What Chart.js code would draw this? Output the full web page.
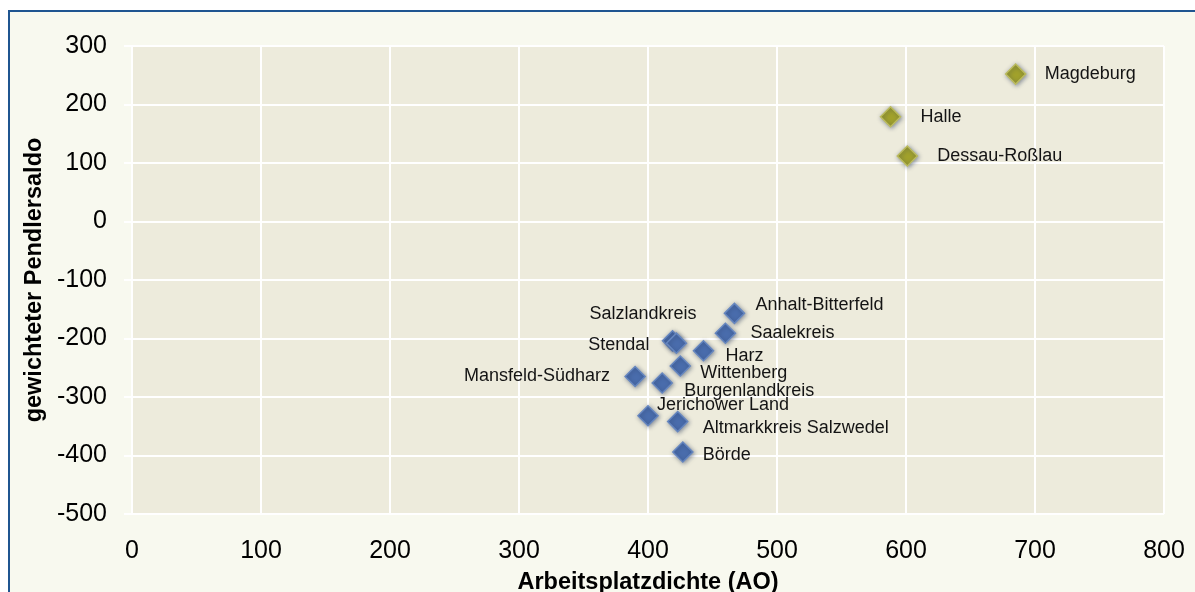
<!DOCTYPE html>
<html>
<head>
<meta charset="utf-8">
<script src="https://cdn.jsdelivr.net/npm/chart.js@4"></script>
<style>
  html, body { margin: 0; padding: 0; background: #ffffff; }
  #wrap { width: 1195px; height: 592px; }
</style>
</head>
<body>
<div id="wrap"><canvas id="c" width="1195" height="592"></canvas></div>
<script>
// ---- data ----
const cityNames = ["Magdeburg", "Halle", "Dessau-Roßlau"];
const cityAO = [685, 588, 601];
const citySaldo = [252, 179, 112];

const districtNames = ["Anhalt-Bitterfeld", "Saalekreis", "Salzlandkreis", "Stendal", "Harz", "Wittenberg",
  "Mansfeld-Südharz", "Burgenlandkreis", "Jerichower Land", "Altmarkkreis Salzwedel", "Börde"];
const districtAO = [467, 460, 419, 422, 443, 425, 390, 411, 400, 423, 427];
const districtSaldo = [-157, -191, -204, -208, -221, -247, -265, -276, -332, -342, -394];

const xTicks = [0, 100, 200, 300, 400, 500, 600, 700, 800];
const yTicks = [300, 200, 100, 0, -100, -200, -300, -400, -500];

// label placement (pixel offsets from the marker, text alignment)
const labelPlacement = {
  "Magdeburg": [29, 0, "left"],
  "Halle": [30, 0, "left"],
  "Dessau-Roßlau": [30, 0, "left"],
  "Anhalt-Bitterfeld": [21, -8, "left"],
  "Saalekreis": [25, 0, "left"],
  "Salzlandkreis": [24, -27, "right"],
  "Stendal": [-27, 2, "right"],
  "Harz": [22, 5, "left"],
  "Wittenberg": [20, 7, "left"],
  "Mansfeld-Südharz": [-25, 0, "right"],
  "Burgenlandkreis": [22, 8, "left"],
  "Jerichower Land": [9, -11, "left"],
  "Altmarkkreis Salzwedel": [25, 6, "left"],
  "Börde": [20, 3, "left"]
};

const toPoints = (xs, ys) => xs.map((x, i) => ({ x: x, y: ys[i] }));

const bgPlugin = {
  id: 'bg',
  beforeDraw(chart) {
    const ctx = chart.ctx;
    const ca = chart.chartArea;
    ctx.save();
    ctx.fillStyle = '#ffffff';
    ctx.fillRect(0, 0, chart.width, chart.height);
    ctx.fillStyle = '#F8F9EF';
    ctx.fillRect(9, 11, chart.width - 9, chart.height - 11);
    ctx.strokeStyle = '#1F5590';
    ctx.lineWidth = 2;
    ctx.beginPath();
    ctx.moveTo(9, chart.height);
    ctx.lineTo(9, 11);
    ctx.lineTo(chart.width, 11);
    ctx.stroke();
    ctx.fillStyle = '#EDEBDC';
    ctx.fillRect(ca.left, ca.top, ca.right - ca.left, ca.bottom - ca.top);
    ctx.restore();
  }
};

const shadowPlugin = {
  id: 'shadow',
  beforeDatasetsDraw(chart) {
    const ctx = chart.ctx;
    ctx.save();
    ctx.shadowColor = 'rgba(40,55,90,0.5)';
    ctx.shadowBlur = 4;
    ctx.shadowOffsetX = 1;
    ctx.shadowOffsetY = 1;
  },
  afterDatasetsDraw(chart) {
    chart.ctx.restore();
  }
};

const labelPlugin = {
  id: 'pointLabels',
  afterDatasetsDraw(chart) {
    const ctx = chart.ctx;
    const xs = chart.scales.x, ys = chart.scales.y;
    ctx.save();
    ctx.font = '18px "Liberation Sans", Arial, sans-serif';
    ctx.fillStyle = '#141414';
    ctx.textBaseline = 'middle';
    chart.data.datasets.forEach(ds => {
      ds.data.forEach((p, i) => {
        const name = ds.names[i];
        const pl = labelPlacement[name] || [20, 0, 'left'];
        ctx.textAlign = pl[2];
        ctx.fillText(name, xs.getPixelForValue(p.x) + pl[0], ys.getPixelForValue(p.y) + pl[1]);
      });
    });
    ctx.restore();
  }
};

new Chart(document.getElementById('c'), {
  type: 'scatter',
  data: {
    datasets: [
      {
        label: 'Landkreise',
        names: districtNames,
        data: toPoints(districtAO, districtSaldo),
        pointStyle: 'rectRot',
        pointRadius: 10,
        pointHoverRadius: 10,
        backgroundColor: '#4A6DAD',
        borderColor: '#6586BF',
        borderWidth: 1.5
      },
      {
        label: 'Kreisfreie Städte',
        names: cityNames,
        data: toPoints(cityAO, citySaldo),
        pointStyle: 'rectRot',
        pointRadius: 10,
        pointHoverRadius: 10,
        backgroundColor: '#A2A22C',
        borderColor: '#BBBB5E',
        borderWidth: 1.5
      }
    ]
  },
  options: {
    responsive: false,
    animation: false,
    devicePixelRatio: 1,
    layout: { padding: { left: 0, top: 46, right: 31, bottom: 0 } },
    plugins: {
      legend: { display: false },
      tooltip: { enabled: false }
    },
    scales: {
      x: {
        type: 'linear',
        min: 0, max: 800,
        afterBuildTicks(scale) { scale.ticks = xTicks.map(v => ({ value: v })); },
        afterFit(scale) { scale.height = 78; scale.paddingRight = 0; scale.paddingLeft = 0; },
        grid: { color: '#ffffff', lineWidth: 2, drawTicks: false },
        border: { display: false },
        ticks: {
          padding: 22,
          color: '#000000',
          font: { family: '"Liberation Sans", Arial, sans-serif', size: 25 },
          callback: v => String(v)
        },
        title: {
          display: true,
          text: 'Arbeitsplatzdichte (AO)',
          color: '#000000',
          padding: { top: 0, bottom: 0 },
          font: { family: '"Liberation Sans", Arial, sans-serif', size: 23.5, weight: 'bold', lineHeight: 0.8 }
        }
      },
      y: {
        type: 'linear',
        min: -500, max: 300,
        afterBuildTicks(scale) { scale.ticks = yTicks.slice().reverse().map(v => ({ value: v })); },
        afterFit(scale) { scale.width = 132; scale.paddingTop = 0; scale.paddingBottom = 0; },
        grid: { color: '#ffffff', lineWidth: 2, drawTicks: true, tickLength: 8, tickColor: '#ffffff' },
        border: { display: false },
        ticks: {
          padding: 17,
          color: '#000000',
          font: { family: '"Liberation Sans", Arial, sans-serif', size: 25 },
          callback: v => String(v)
        },
        title: {
          display: true,
          text: 'gewichteter Pendlersaldo',
          color: '#000000',
          padding: { top: 23, bottom: 0 },
          font: { family: '"Liberation Sans", Arial, sans-serif', size: 23.5, weight: 'bold', lineHeight: 1 }
        }
      }
    }
  },
  plugins: [bgPlugin, shadowPlugin, labelPlugin]
});
</script>
</body>
</html>
